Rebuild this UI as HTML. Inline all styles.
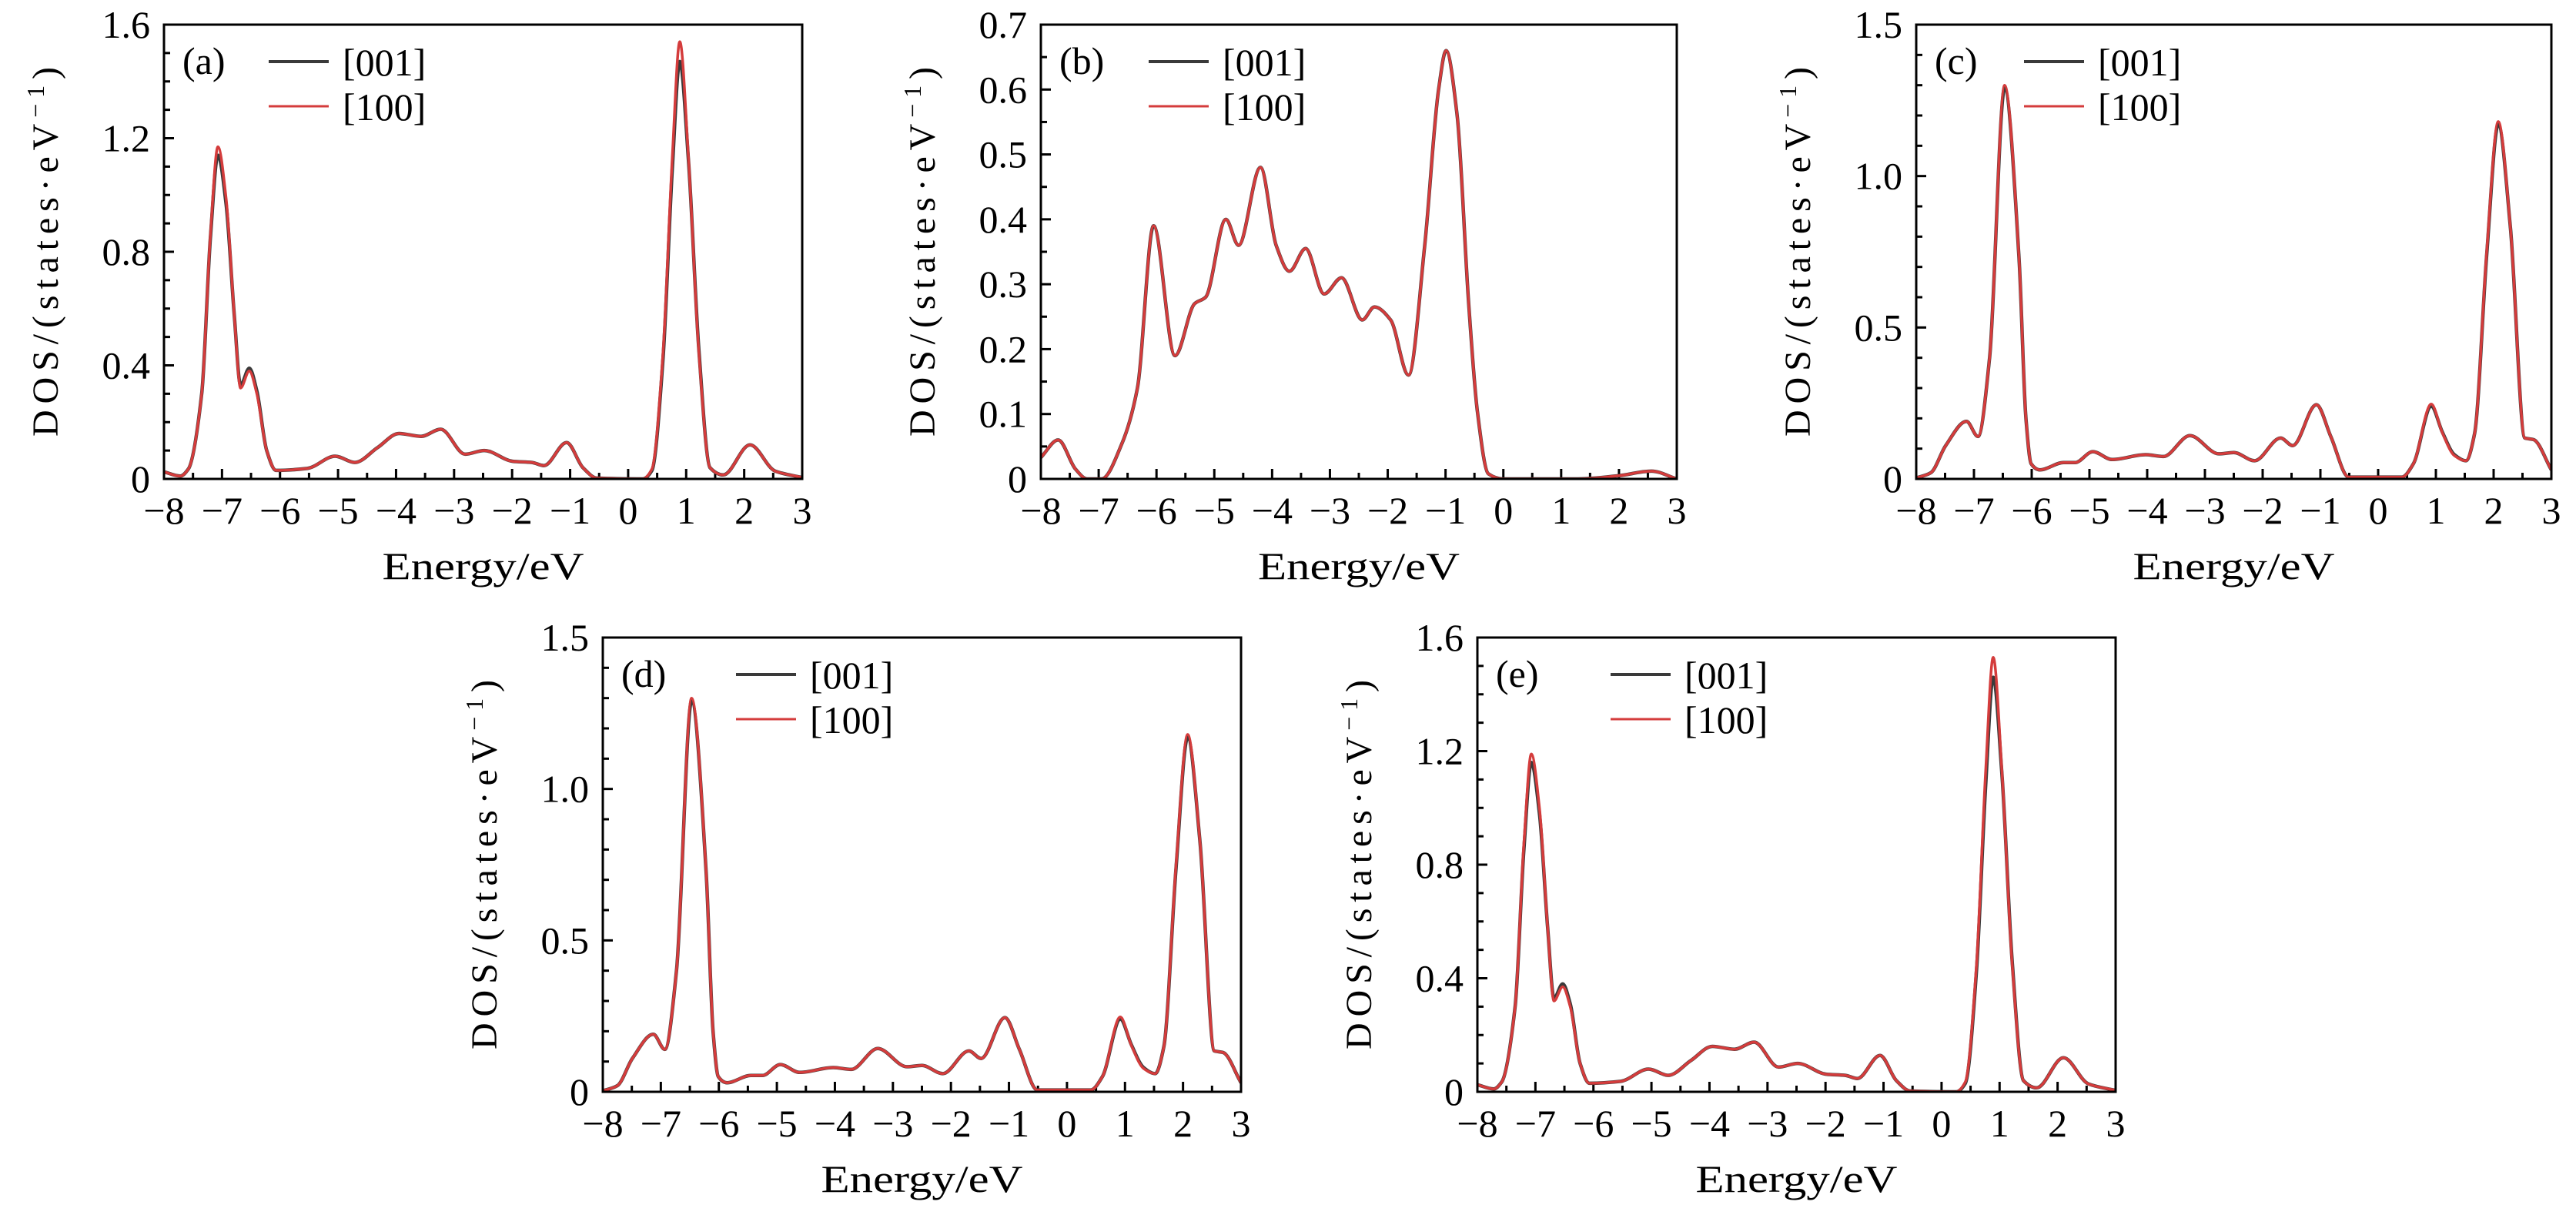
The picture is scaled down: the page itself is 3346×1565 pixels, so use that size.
<!DOCTYPE html>
<html><head><meta charset="utf-8">
<style>
html,body{margin:0;padding:0;background:#fff;}
svg{display:block;}
text{font-family:"Liberation Serif","DejaVu Serif",serif;fill:#000;}
</style></head>
<body>
<svg id="fig" width="3346" height="1565" viewBox="0 0 3346 1565" xmlns="http://www.w3.org/2000/svg"></svg>
<script>
// ---------- data ----------
const xTicks = [-8,-7,-6,-5,-4,-3,-2,-1,0,1,2,3];
const xTickLabels = ["−8","−7","−6","−5","−4","−3","−2","−1","0","1","2","3"];

const eA = [-8,-7.72,-7.58,-7.35,-7.2,-7.07,-6.93,-6.79,-6.68,-6.53,-6.4,-6.23,-6.07,-5.53,-5.05,-4.71,-4.32,-3.95,-3.57,-3.23,-2.81,-2.48,-1.99,-1.66,-1.45,-1.06,-0.78,-0.54,0.25,0.41,0.6,0.76,0.89,1.04,1.22,1.41,1.64,2.1,2.53,3];
const a100 = [0.025,0.01,0.035,0.30,0.86,1.17,0.99,0.58,0.32,0.38,0.30,0.10,0.03,0.037,0.08,0.058,0.11,0.16,0.15,0.175,0.087,0.10,0.062,0.058,0.047,0.128,0.04,0.003,0,0.035,0.44,1.13,1.54,1.13,0.44,0.04,0.014,0.12,0.028,0.005];
const a001 = [0.025,0.01,0.035,0.30,0.85,1.14,0.97,0.58,0.33,0.39,0.31,0.10,0.03,0.037,0.08,0.058,0.11,0.16,0.15,0.175,0.087,0.10,0.062,0.058,0.047,0.128,0.04,0.003,0,0.03,0.42,1.09,1.47,1.12,0.45,0.04,0.014,0.12,0.028,0.005];
const aYTicks = [0,0.4,0.8,1.2,1.6];
const aYLabels = ["0","0.4","0.8","1.2","1.6"];

const eB = [-8,-7.7,-7.4,-7.2,-6.95,-6.6,-6.33,-6.05,-5.68,-5.34,-5.15,-4.8,-4.58,-4.2,-3.93,-3.7,-3.42,-3.1,-2.8,-2.44,-2.23,-1.95,-1.64,-1.36,-1.12,-0.99,-0.8,-0.6,-0.45,-0.26,0,1.3,2.0,2.56,3];
const b100 = [0.033,0.06,0.015,0,0,0.054,0.14,0.39,0.19,0.27,0.28,0.40,0.36,0.48,0.36,0.32,0.355,0.285,0.31,0.245,0.265,0.245,0.16,0.36,0.60,0.66,0.56,0.27,0.105,0.008,0,0,0.005,0.012,0];
const b001 = b100.slice();
const bYTicks = [0,0.1,0.2,0.3,0.4,0.5,0.6,0.7];
const bYLabels = ["0","0.1","0.2","0.3","0.4","0.5","0.6","0.7"];

const eC = [-8,-7.75,-7.49,-7.13,-6.93,-6.73,-6.47,-6.22,-6.1,-6.01,-5.86,-5.45,-5.25,-4.94,-4.61,-4.03,-3.72,-3.26,-2.76,-2.5,-2.14,-1.69,-1.48,-1.07,-0.82,-0.51,0.41,0.61,0.92,1.11,1.32,1.52,1.67,1.88,2.08,2.29,2.54,2.69,3];
const c100 = [0.003,0.02,0.11,0.19,0.14,0.40,1.30,0.73,0.2,0.05,0.03,0.054,0.054,0.09,0.064,0.08,0.074,0.143,0.083,0.087,0.06,0.135,0.11,0.245,0.14,0.006,0.006,0.05,0.247,0.153,0.077,0.06,0.15,0.75,1.18,0.83,0.135,0.13,0.03];
const c001 = [0.003,0.02,0.11,0.19,0.14,0.40,1.29,0.73,0.2,0.05,0.03,0.054,0.054,0.09,0.064,0.08,0.074,0.143,0.083,0.087,0.06,0.135,0.11,0.245,0.14,0.006,0.006,0.05,0.24,0.155,0.08,0.06,0.15,0.74,1.17,0.83,0.135,0.13,0.03];
const cYTicks = [0,0.5,1.0,1.5];
const cYLabels = ["0","0.5","1.0","1.5"];

const eD = eC.slice();
const d100 = c100.slice();
const d001 = c001.slice();

const eE = eA.slice();
const e100 = [0.025,0.01,0.035,0.30,0.87,1.19,1.0,0.58,0.32,0.37,0.30,0.10,0.03,0.037,0.08,0.058,0.11,0.16,0.15,0.175,0.087,0.10,0.062,0.058,0.047,0.128,0.04,0.003,0,0.035,0.44,1.13,1.53,1.13,0.44,0.04,0.014,0.12,0.028,0.005];
const e001 = [0.025,0.01,0.035,0.30,0.85,1.16,0.98,0.58,0.33,0.38,0.31,0.10,0.03,0.037,0.08,0.058,0.11,0.16,0.15,0.175,0.087,0.10,0.062,0.058,0.047,0.128,0.04,0.003,0,0.03,0.42,1.08,1.46,1.12,0.45,0.04,0.014,0.12,0.028,0.005];

// ---------- drawing ----------
const NS = "http://www.w3.org/2000/svg";
const svg = document.getElementById('fig');
function mk(tag, attrs, parent){
  const el = document.createElementNS(NS, tag);
  for (const k in attrs) el.setAttribute(k, attrs[k]);
  parent.appendChild(el);
  return el;
}
function smoothPath(pts){
  const n = pts.length;
  const dx = [], m = [];
  for (let i=0;i<n-1;i++){ dx[i]=pts[i+1][0]-pts[i][0]; m[i]=(pts[i+1][1]-pts[i][1])/dx[i]; }
  const t = [m[0]];
  for (let i=1;i<n-1;i++){
    if (m[i-1]*m[i] <= 0) t[i]=0;
    else { const w1=2*dx[i]+dx[i-1], w2=dx[i]+2*dx[i-1]; t[i]=(w1+w2)/(w1/m[i-1]+w2/m[i]); }
  }
  t[n-1]=m[n-2];
  let d = "M"+pts[0][0].toFixed(1)+","+pts[0][1].toFixed(1);
  for (let i=0;i<n-1;i++){
    const h=dx[i];
    d += " C"+(pts[i][0]+h/3).toFixed(1)+","+(pts[i][1]+t[i]*h/3).toFixed(1)+" "+(pts[i+1][0]-h/3).toFixed(1)+","+(pts[i+1][1]-t[i+1]*h/3).toFixed(1)+" "+pts[i+1][0].toFixed(1)+","+pts[i+1][1].toFixed(1);
  }
  return d;
}

function panel(cfg){
  const {id, L, T, W, H, ymax, yTicks, yLabels, yMinor, energies, s001, s100, legX} = cfg;
  const g = mk('g', {}, svg);
  
  
  const xs = v => L + (v + 8) / 11 * W;
  const ys = v => T + H - v / ymax * H;
  const clipId = 'clip-' + id;
  const cp = mk('clipPath', {id: clipId}, g);
  mk('rect', {x:L, y:T, width:W, height:H}, cp);

  const xt = mk('g', {}, g);
  
  
  for (let v=-8; v<=3.001; v+=0.5){
    const major = Math.abs(v - Math.round(v)) < 1e-6;
    const len = major ? 13 : 8;
    mk('line', {x1:xs(v), x2:xs(v), y1:T+H, y2:T+H-len, stroke:'#000','stroke-width':3}, xt);
  }
  xTicks.forEach((v,i)=>{
    const t = mk('text', {x:xs(v), y:T+H+58, 'font-size':50, 'text-anchor':'middle'}, xt);
    t.textContent = xTickLabels[i];
    
    
  });
  const yt = mk('g', {}, g);
  
  
  const nMinor = Math.round(ymax / yMinor);
  for (let k=0; k<=nMinor; k++){
    const v = k*yMinor;
    const major = yTicks.some(t => Math.abs(t - v) < 1e-6);
    mk('line', {x1:L, x2:L+(major?13:8), y1:ys(v), y2:ys(v), stroke:'#000','stroke-width':3}, yt);
  }
  yTicks.forEach((v,i)=>{
    const t = mk('text', {x:L-18, y:ys(v)+17, 'font-size':50, 'text-anchor':'end'}, yt);
    t.textContent = yLabels[i];
    
    
  });

  const pts001 = energies.map((e,i)=>[xs(e), ys(s001[i])]);
  const pts100 = energies.map((e,i)=>[xs(e), ys(s100[i])]);
  const l1 = mk('path', {d:smoothPath(pts001), fill:'none', stroke:'#3a3a3a', 'stroke-width':4.5, 'clip-path':'url(#'+clipId+')', 'stroke-linejoin':'round'}, g);
  
  
  const l2 = mk('path', {d:smoothPath(pts100), fill:'none', stroke:'#d43c3c', 'stroke-width':3.5, 'clip-path':'url(#'+clipId+')', 'stroke-linejoin':'round'}, g);
  
  

  const fr = mk('rect', {x:L, y:T, width:W, height:H, fill:'none', stroke:'#000', 'stroke-width':3}, g);
  
  

  const pl = mk('text', {x:L+24, y:T+64, 'font-size':50}, g);
  pl.textContent = '(' + id + ')';
  
  

  const lg = mk('g', {}, g);
  
  
  const e1 = mk('g', {}, lg);
  
  
  mk('line', {x1:L+legX, x2:L+legX+78, y1:T+48, y2:T+48, stroke:'#3a3a3a', 'stroke-width':4}, e1);
  const tx1 = mk('text', {x:L+legX+96, y:T+66, 'font-size':50}, e1);
  tx1.textContent = '[001]';
  const e2 = mk('g', {}, lg);
  
  
  mk('line', {x1:L+legX, x2:L+legX+78, y1:T+106, y2:T+106, stroke:'#d43c3c', 'stroke-width':3}, e2);
  const tx2 = mk('text', {x:L+legX+96, y:T+124, 'font-size':50}, e2);
  tx2.textContent = '[100]';

  const xtitle = mk('text', {x:L+W/2, y:T+H+130, 'font-size':50, 'text-anchor':'middle', textLength:262, lengthAdjust:'spacingAndGlyphs'}, g);
  xtitle.textContent = 'Energy/eV';
  
  
  const cy = T + H/2, bx = L - 138;
  const ytitle = mk('text', {x:bx, y:cy, 'font-size':48, 'text-anchor':'middle', textLength:480, lengthAdjust:'spacing', transform:'rotate(-90 '+bx+' '+cy+')'}, g);
  
  
  const s1 = mk('tspan', {}, ytitle); s1.textContent = 'DOS/(states·eV';
  const s2 = mk('tspan', {dy:-18, 'font-size':32}, ytitle); s2.textContent = '−1';
  const s3 = mk('tspan', {dy:18}, ytitle); s3.textContent = ')';
}

panel({id:'a', L:213, T:32, W:829, H:590, ymax:1.6, yTicks:aYTicks, yLabels:aYLabels, yMinor:0.1, energies:eA, s001:a001, s100:a100, legX:136});
panel({id:'b', L:1352, T:32, W:826, H:590, ymax:0.7, yTicks:bYTicks, yLabels:bYLabels, yMinor:0.05, energies:eB, s001:b001, s100:b100, legX:140});
panel({id:'c', L:2489, T:32, W:825, H:590, ymax:1.5, yTicks:cYTicks, yLabels:cYLabels, yMinor:0.1, energies:eC, s001:c001, s100:c100, legX:140});
panel({id:'d', L:783, T:828, W:829, H:590, ymax:1.5, yTicks:cYTicks, yLabels:cYLabels, yMinor:0.1, energies:eD, s001:d001, s100:d100, legX:173});
panel({id:'e', L:1919, T:828, W:829, H:590, ymax:1.6, yTicks:aYTicks, yLabels:aYLabels, yMinor:0.1, energies:eE, s001:e001, s100:e100, legX:173});
</script>
</body></html>
